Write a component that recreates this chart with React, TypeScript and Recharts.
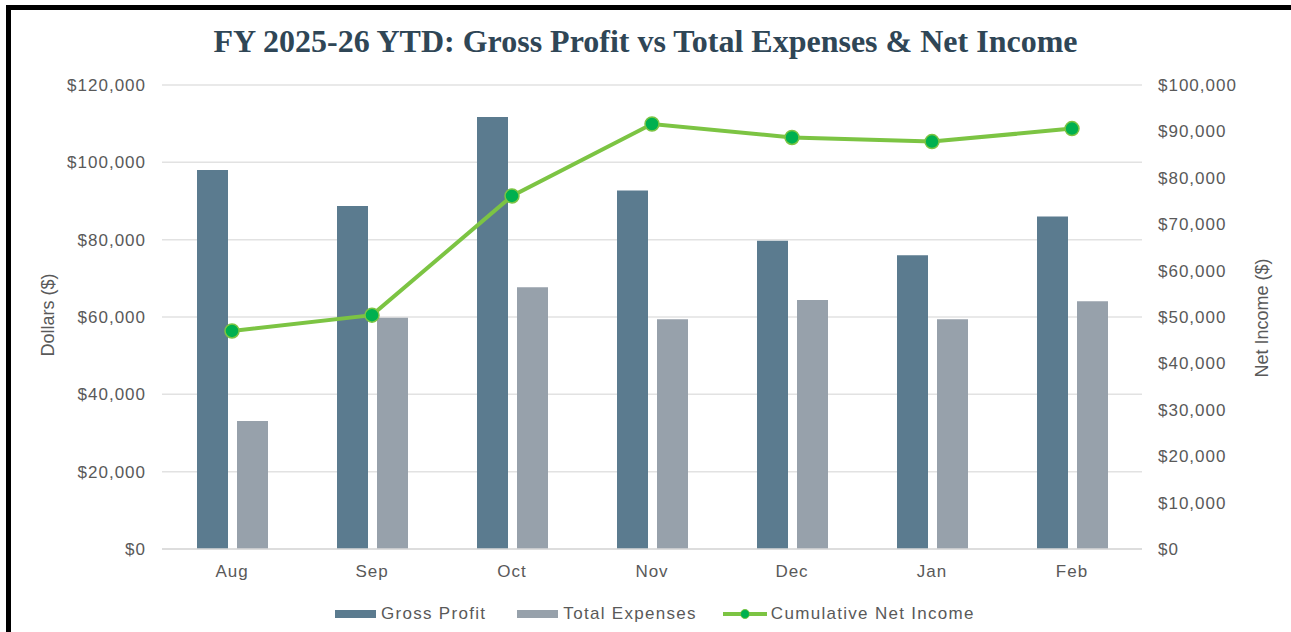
import React from 'react';
import { ComposedChart, Bar, Line, XAxis, YAxis, CartesianGrid } from 'recharts';

const months = ['Aug', 'Sep', 'Oct', 'Nov', 'Dec', 'Jan', 'Feb'];
const grossProfit = [98000, 88700, 111700, 92700, 79700, 76000, 86000];
const totalExpenses = [33100, 59800, 67700, 59400, 64400, 59400, 64100];
const netIncome = [47000, 50400, 76100, 91600, 88700, 87800, 90600];

const leftTicks = [0, 20000, 40000, 60000, 80000, 100000, 120000];
const rightTicks = [0, 10000, 20000, 30000, 40000, 50000, 60000, 70000, 80000, 90000, 100000];

const data = months.map((m, i) => ({
  month: m,
  gross: grossProfit[i],
  expenses: totalExpenses[i],
  net: netIncome[i],
}));

const GP_COLOR = '#5B7B8F';
const EXP_COLOR = '#97A1AB';
const LINE_COLOR = '#7CC443';
const DOT_COLOR = '#00B04F';
const TEXT = '#595959';
const FONT = '"Liberation Sans", Arial, sans-serif';

const money = (v: number) => '$' + v.toLocaleString('en-US');

const tickStyle = { fill: TEXT, fontSize: 17, fontFamily: FONT, letterSpacing: 1 };

const App = () => {
  return (
    <div style={{ position: 'fixed', left: 0, top: 0, width: 1291, height: 632, background: '#fff', overflow: 'hidden' }}>
      <div
        style={{
          position: 'absolute',
          left: 6,
          top: 5,
          width: 1300,
          height: 700,
          borderTop: '5px solid #000',
          borderLeft: '5px solid #000',
        }}
      />
      <div
        style={{
          position: 'absolute',
          left: 0,
          width: 1291,
          top: 21,
          textAlign: 'center',
          fontFamily: '"Liberation Serif", "Times New Roman", serif',
          fontWeight: 'bold',
          fontSize: 32,
          color: '#2F4656',
          lineHeight: '40px',
        }}
      >
        FY 2025-26 YTD: Gross Profit vs Total Expenses &amp; Net Income
      </div>

      <ComposedChart
        width={1291}
        height={632}
        data={data}
        margin={{ top: 85, right: 0, left: 0, bottom: 43 }}
        barSize={31}
        barGap={9}
        style={{ position: 'absolute', left: 0, top: 0 }}
      >
        <CartesianGrid yAxisId="left" vertical={false} stroke="#E2E2E2" strokeWidth={1.5} />
        <XAxis
          dataKey="month"
          height={40}
          axisLine={{ stroke: '#D9D9D9', strokeWidth: 1.5 }}
          tickLine={false}
          tickMargin={10}
          tick={tickStyle}
        />
        <YAxis
          yAxisId="left"
          width={162}
          domain={[0, 120000]}
          ticks={leftTicks}
          tickFormatter={money}
          axisLine={false}
          tickLine={false}
          tickMargin={10}
          tick={tickStyle}
        />
        <YAxis
          yAxisId="right"
          orientation="right"
          width={149}
          domain={[0, 100000]}
          ticks={rightTicks}
          tickFormatter={money}
          axisLine={false}
          tickLine={false}
          tickMargin={10}
          tick={tickStyle}
        />
        <Bar yAxisId="left" dataKey="gross" name="Gross Profit" fill={GP_COLOR} isAnimationActive={false} />
        <Bar yAxisId="left" dataKey="expenses" name="Total Expenses" fill={EXP_COLOR} isAnimationActive={false} />
        <Line
          yAxisId="right"
          type="linear"
          dataKey="net"
          name="Cumulative Net Income"
          stroke={LINE_COLOR}
          strokeWidth={4}
          dot={{ r: 7, fill: DOT_COLOR, stroke: LINE_COLOR, strokeWidth: 1.5 }}
          activeDot={false}
          isAnimationActive={false}
        />
      </ComposedChart>

      <div
        style={{
          position: 'absolute',
          left: 48,
          top: 315,
          transform: 'translate(-50%, -50%) rotate(-90deg)',
          whiteSpace: 'nowrap',
          fontFamily: FONT,
          fontSize: 18,
          color: TEXT,
        }}
      >
        Dollars ($)
      </div>
      <div
        style={{
          position: 'absolute',
          left: 1262,
          top: 318,
          transform: 'translate(-50%, -50%) rotate(-90deg)',
          whiteSpace: 'nowrap',
          fontFamily: FONT,
          fontSize: 18,
          color: TEXT,
        }}
      >
        Net Income ($)
      </div>

      <div
        style={{
          position: 'absolute',
          left: 335,
          top: 603,
          display: 'flex',
          alignItems: 'center',
          fontFamily: FONT,
          fontSize: 17,
          letterSpacing: 1.3,
          color: TEXT,
          lineHeight: '22px',
          whiteSpace: 'nowrap',
        }}
      >
        <span style={{ width: 41, height: 8, background: GP_COLOR, marginRight: 5 }} />
        <span style={{ marginRight: 31 }}>Gross Profit</span>
        <span style={{ width: 41, height: 8, background: EXP_COLOR, marginRight: 5 }} />
        <span style={{ marginRight: 26 }}>Total Expenses</span>
        <svg width={44} height={14} style={{ marginRight: 4 }}>
          <line x1={0} y1={7} x2={44} y2={7} stroke={LINE_COLOR} strokeWidth={4} />
          <circle cx={22} cy={7} r={4.5} fill={DOT_COLOR} stroke={LINE_COLOR} strokeWidth={1} />
        </svg>
        <span>Cumulative Net Income</span>
      </div>
    </div>
  );
};

export default App;
